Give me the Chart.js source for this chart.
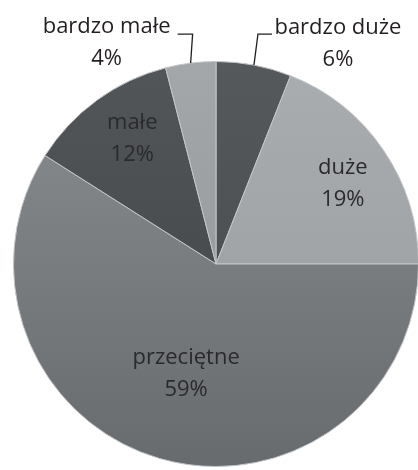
<!DOCTYPE html>
<html>
<head>
<meta charset="utf-8">
<script src="https://cdn.jsdelivr.net/npm/chart.js@4.4.0/dist/chart.umd.min.js"></script>
<style>
  html, body { margin: 0; padding: 0; background: #ffffff; overflow: hidden; }
  #wrap { width: 420px; height: 470px; }
</style>
</head>
<body>
<div id="wrap"><canvas id="chart"></canvas></div>
<script>
// categories, clockwise from 12 o'clock
var labels = ['bardzo duże', 'duże', 'przeciętne', 'małe', 'bardzo małe'];
var values = [6, 19, 59, 12, 4];
var percentLabels = ['6%', '19%', '59%', '12%', '4%'];

// top / bottom shade of each slice
var topColors = ['#55595c', '#aaadaf', '#8a8e91', '#525658', '#a4a7a9'];
var bottomColors = ['#44484a', '#989b9d', '#676b6e', '#3f4345', '#909395'];

// inside: fraction of radius; outside: text anchor offset from arc edge
var labelPlace = [
    { out: true, tx: 84, ty: -21, line: [[4, -31], [18, -31]] },
    { r: 0.74, dAng: 0.035 },
    { r: 0.56, dAng: -0.016 },
    { r: 0.745, dAng: 0.04 },
    { out: true, tx: -84, ty: -20, line: [[2, -29], [-13, -29]] }
];

function sliceFill(c) {
    var area = c.chart.chartArea;
    if (!area) return topColors[c.dataIndex];
    var g = c.chart.ctx.createLinearGradient(0, area.top, 0, area.bottom);
    g.addColorStop(0, topColors[c.dataIndex]);
    g.addColorStop(1, bottomColors[c.dataIndex]);
    return g;
}

var sliceLabels = {
    id: 'sliceLabels',
    afterDatasetsDraw: function(chart) {
        var ctx = chart.ctx;
        var arcs = chart.getDatasetMeta(0).data;
        ctx.save();
        ctx.font = '22px "Open Sans", Lato, sans-serif';
        ctx.textAlign = 'center';
        ctx.textBaseline = 'middle';
        arcs.forEach(function(arc, i) {
            var p = labelPlace[i];
            var a = (arc.startAngle + arc.endAngle) / 2 + (p.dAng || 0);
            var cx = arc.x, cy = arc.y, R = arc.outerRadius;
            var x, y;
            if (p.out) {
                var ex = cx + R * Math.cos(a), ey = cy + R * Math.sin(a);
                ctx.strokeStyle = '#231f20';
                ctx.lineWidth = 1.3;
                ctx.beginPath();
                ctx.moveTo(ex, ey);
                p.line.forEach(function(pt) { ctx.lineTo(ex + pt[0], ey + pt[1]); });
                ctx.stroke();
                x = ex + p.tx; y = ey + p.ty;
                ctx.fillStyle = '#231f20';
            } else {
                x = cx + R * p.r * Math.cos(a);
                y = cy + R * p.r * Math.sin(a);
                ctx.fillStyle = '#2a2a2c';
            }
            ctx.fillText(labels[i], x, y - 16);
            ctx.fillText(percentLabels[i], x, y + 16);
        });
        ctx.restore();
    }
};

new Chart(document.getElementById('chart'), {
    type: 'pie',
    data: {
        labels: labels,
        datasets: [{
            data: values,
            backgroundColor: sliceFill,
            borderColor: '#c3c6c8',
            borderWidth: 1
        }]
    },
    options: {
        responsive: true,
        maintainAspectRatio: false,
        animation: false,
        layout: { padding: { left: 13, right: 1, top: 60, bottom: 2 } },
        plugins: {
            legend: { display: false },
            tooltip: { enabled: false }
        }
    },
    plugins: [sliceLabels]
});
</script>
</body>
</html>
